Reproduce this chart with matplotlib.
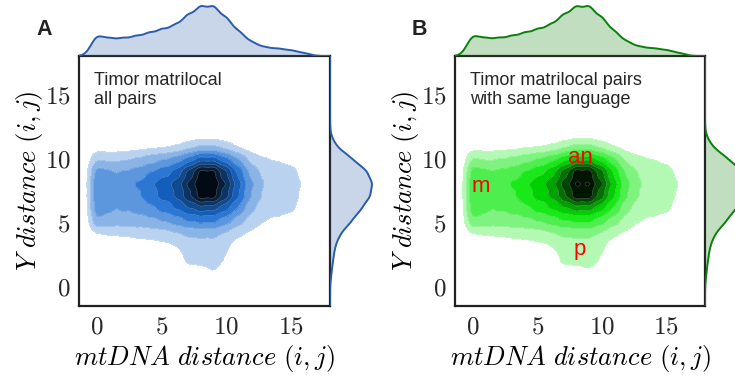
import numpy as np
import matplotlib
matplotlib.use('Agg')
import matplotlib.pyplot as plt
from matplotlib.colors import LinearSegmentedColormap

plt.rcParams['mathtext.fontset'] = 'cm'
plt.rcParams['font.family'] = ['Liberation Sans', 'DejaVu Sans']

# pair counts (relative), rows follow y_distance, columns follow mt_distance
mt_distance = [0, 1, 2, 3, 4, 5, 6, 7, 8, 9, 10, 11, 12, 13, 14, 15, 16]
y_distance = [12, 11, 10, 9, 8, 7, 6, 5, 4, 3, 2, 1, 0]

pairs_all = [
    [0, 0, 0, 0, 0, 0, 0, 1, 2, 2, 1, 0, 0, 0, 0, 0, 0],
    [3, 3, 3, 4, 5, 6, 8, 13, 18, 18, 13, 6, 3, 1, 1, 0, 0],
    [19, 16, 18, 20, 24, 28, 32, 40, 52, 52, 40, 28, 14, 10, 8, 6, 2],
    [37, 30, 30, 33, 38, 44, 50, 70, 95, 94, 70, 44, 24, 17, 16, 13, 7],
    [43, 34, 34, 40, 48, 56, 62, 80, 100, 99, 78, 52, 30, 18, 16, 14, 9],
    [42, 33, 33, 37, 45, 52, 58, 75, 96, 95, 72, 48, 27, 17, 15, 13, 8],
    [39, 30, 30, 32, 36, 42, 48, 56, 62, 60, 50, 36, 20, 14, 14, 12, 6],
    [29, 25, 24, 25, 26, 28, 32, 38, 40, 40, 32, 22, 14, 9, 7, 3, 0],
    [7, 9, 10, 11, 12, 14, 16, 20, 21, 21, 16, 10, 7, 3, 1, 0, 0],
    [2, 3, 3, 4, 5, 6, 8, 14, 15, 15, 11, 3, 2, 1, 0, 0, 0],
    [0, 0, 1, 1, 2, 2, 3, 12, 12, 14, 9, 1, 0, 0, 0, 0, 0],
    [0, 0, 0, 0, 0, 0, 1, 6, 6, 10, 4, 0, 0, 0, 0, 0, 0],
    [0, 0, 0, 0, 0, 0, 0, 0, 0, 1, 0, 0, 0, 0, 0, 0, 0],
]

pairs_same_language = [
    [0, 0, 0, 0, 0, 0, 0, 1, 2, 2, 1, 0, 0, 0, 0, 0, 0],
    [4, 4, 4, 5, 6, 7, 9, 14, 20, 20, 14, 7, 4, 2, 1, 0, 0],
    [21, 17, 19, 21, 25, 29, 34, 42, 54, 54, 42, 30, 15, 11, 9, 6, 2],
    [38, 31, 31, 34, 39, 45, 52, 72, 95, 95, 72, 45, 25, 18, 17, 14, 7],
    [43, 34, 34, 40, 48, 56, 63, 82, 100, 100, 80, 53, 31, 19, 17, 15, 10],
    [42, 33, 33, 37, 45, 52, 58, 75, 96, 96, 72, 48, 28, 18, 16, 14, 8],
    [39, 30, 30, 32, 36, 42, 48, 55, 60, 60, 50, 36, 20, 14, 14, 12, 6],
    [29, 25, 24, 25, 26, 28, 32, 37, 39, 40, 32, 22, 14, 9, 7, 3, 0],
    [7, 9, 10, 11, 12, 14, 16, 20, 21, 21, 16, 10, 7, 3, 1, 0, 0],
    [2, 3, 3, 4, 5, 6, 8, 14, 15, 15, 11, 3, 2, 1, 0, 0, 0],
    [0, 0, 1, 1, 2, 2, 3, 12, 12, 13, 9, 1, 0, 0, 0, 0, 0],
    [0, 0, 0, 0, 0, 0, 1, 6, 6, 9, 4, 0, 0, 0, 0, 0, 0],
    [0, 0, 0, 0, 0, 0, 0, 0, 0, 1, 0, 0, 0, 0, 0, 0, 0],
]

tick_values = [0, 5, 10, 15]
captions = ['Timor matrilocal\nall pairs', 'Timor matrilocal pairs\nwith same language']
panel_letters = ['A', 'B']
group_labels = ['an', 'm', 'p']
group_label_x = [8.35, 0.6, 8.3]
group_label_y = [9.6, 7.35, 2.45]

XLIM = (-1.4, 18.0)
YLIM = (-1.55, 18.0)
BW_2D = (0.5, 0.5)
BW_X = 0.5
BW_Y = 0.55


def kde_2d(counts, gx, gy):
    c = np.array(counts, dtype=float)
    kx = np.exp(-0.5 * ((gx[None, :] - np.array(mt_distance)[:, None]) / BW_2D[0]) ** 2)
    ky = np.exp(-0.5 * ((gy[None, :] - np.array(y_distance)[:, None]) / BW_2D[1]) ** 2)
    return ky.T @ c @ kx


def kde_1d(values, weights, grid, bw):
    k = np.exp(-0.5 * ((grid[None, :] - np.array(values)[:, None]) / bw) ** 2)
    return np.array(weights) @ k


def draw_panel(fig, left_px, width_px, counts, mid_color, line_color, caption, letter, top_fraction):
    W, H = 735.0, 377.0
    bottom = (H - 306) / H
    height = 250 / H
    main = fig.add_axes([left_px / W, bottom, width_px / W, height])
    top = fig.add_axes([left_px / W, (H - 56) / H, width_px / W, 52 / H])
    right = fig.add_axes([(left_px + width_px) / W, bottom, 50 / W, height])

    gx = np.linspace(XLIM[0], XLIM[1], 400)
    gy = np.linspace(YLIM[0], YLIM[1], 400)
    Z = kde_2d(counts, gx, gy)
    zmax = Z.max()
    levels = np.linspace(0, zmax * top_fraction, 11)
    if top_fraction < 1:
        levels = np.append(levels, zmax * 1.001)
    cmap = LinearSegmentedColormap.from_list('kde', ['white', mid_color, 'black'])
    band_colors = [cmap(min((k + 0.5) / 10, 1.0)) for k in range(len(levels) - 1)]
    band_colors[0] = (1, 1, 1, 0)
    main.contourf(gx, gy, Z, levels=levels, colors=band_colors)
    main.contour(gx, gy, Z, levels=levels[1:-1], colors='white', linewidths=0.4, alpha=0.35)

    main.set_xlim(XLIM)
    main.set_ylim(YLIM)
    main.set_xticks(tick_values)
    main.set_xticklabels(['$%d$' % t for t in tick_values])
    main.set_yticks(tick_values)
    main.set_yticklabels(['$%d$' % t for t in tick_values])
    main.tick_params(length=0, labelsize=18, colors='#262626')
    main.tick_params(axis='x', pad=6)
    main.tick_params(axis='y', pad=6)
    for sp in main.spines.values():
        sp.set_linewidth(1.6)
        sp.set_color('#222222')
    main.set_xlabel(r'$mtDNA\ distance\ (i,j)$', fontsize=19, labelpad=3)
    main.set_ylabel(r'$Y\ distance\ (i,j)$', fontsize=19, labelpad=0)
    main.text(0.06, 0.935, caption, transform=main.transAxes, ha='left', va='top',
              fontsize=13, color='#262626', linespacing=1.12)

    cnt = np.array(counts, dtype=float)
    mx = kde_1d(mt_distance, cnt.sum(axis=0), gx, BW_X)
    my = kde_1d(y_distance, cnt.sum(axis=1), gy, BW_Y)

    top.fill_between(gx, 0, mx, color=line_color, alpha=0.25, lw=0)
    top.plot(gx, mx, color=line_color, lw=1.4)
    top.set_xlim(XLIM)
    top.set_ylim(0, mx.max() * 52 / 50)
    top.axis('off')

    right.fill_betweenx(gy, 0, my, color=line_color, alpha=0.25, lw=0)
    right.plot(my, gy, color=line_color, lw=1.4)
    right.set_ylim(YLIM)
    right.set_xlim(0, my.max() * 50 / 42)
    right.axis('off')

    fig.text((left_px - 43) / W, (H - 35) / H, letter, fontsize=15.5, fontweight='bold',
             color='#222222', ha='left', va='baseline')
    return main


fig = plt.figure(figsize=(7.35, 3.77), dpi=100)
ax_a = draw_panel(fig, 79, 251, pairs_all, '#1568ce', '#2a5ca8', captions[0], panel_letters[0], 1.0)
ax_b = draw_panel(fig, 455, 250, pairs_same_language, '#00e600', '#0a7f0a', captions[1], panel_letters[1], 0.99)
for lab, lx, ly in zip(group_labels, group_label_x, group_label_y):
    ax_b.text(lx, ly, lab, color='red', fontsize=16, ha='center', va='baseline')

fig.savefig('out.png', dpi=100)
